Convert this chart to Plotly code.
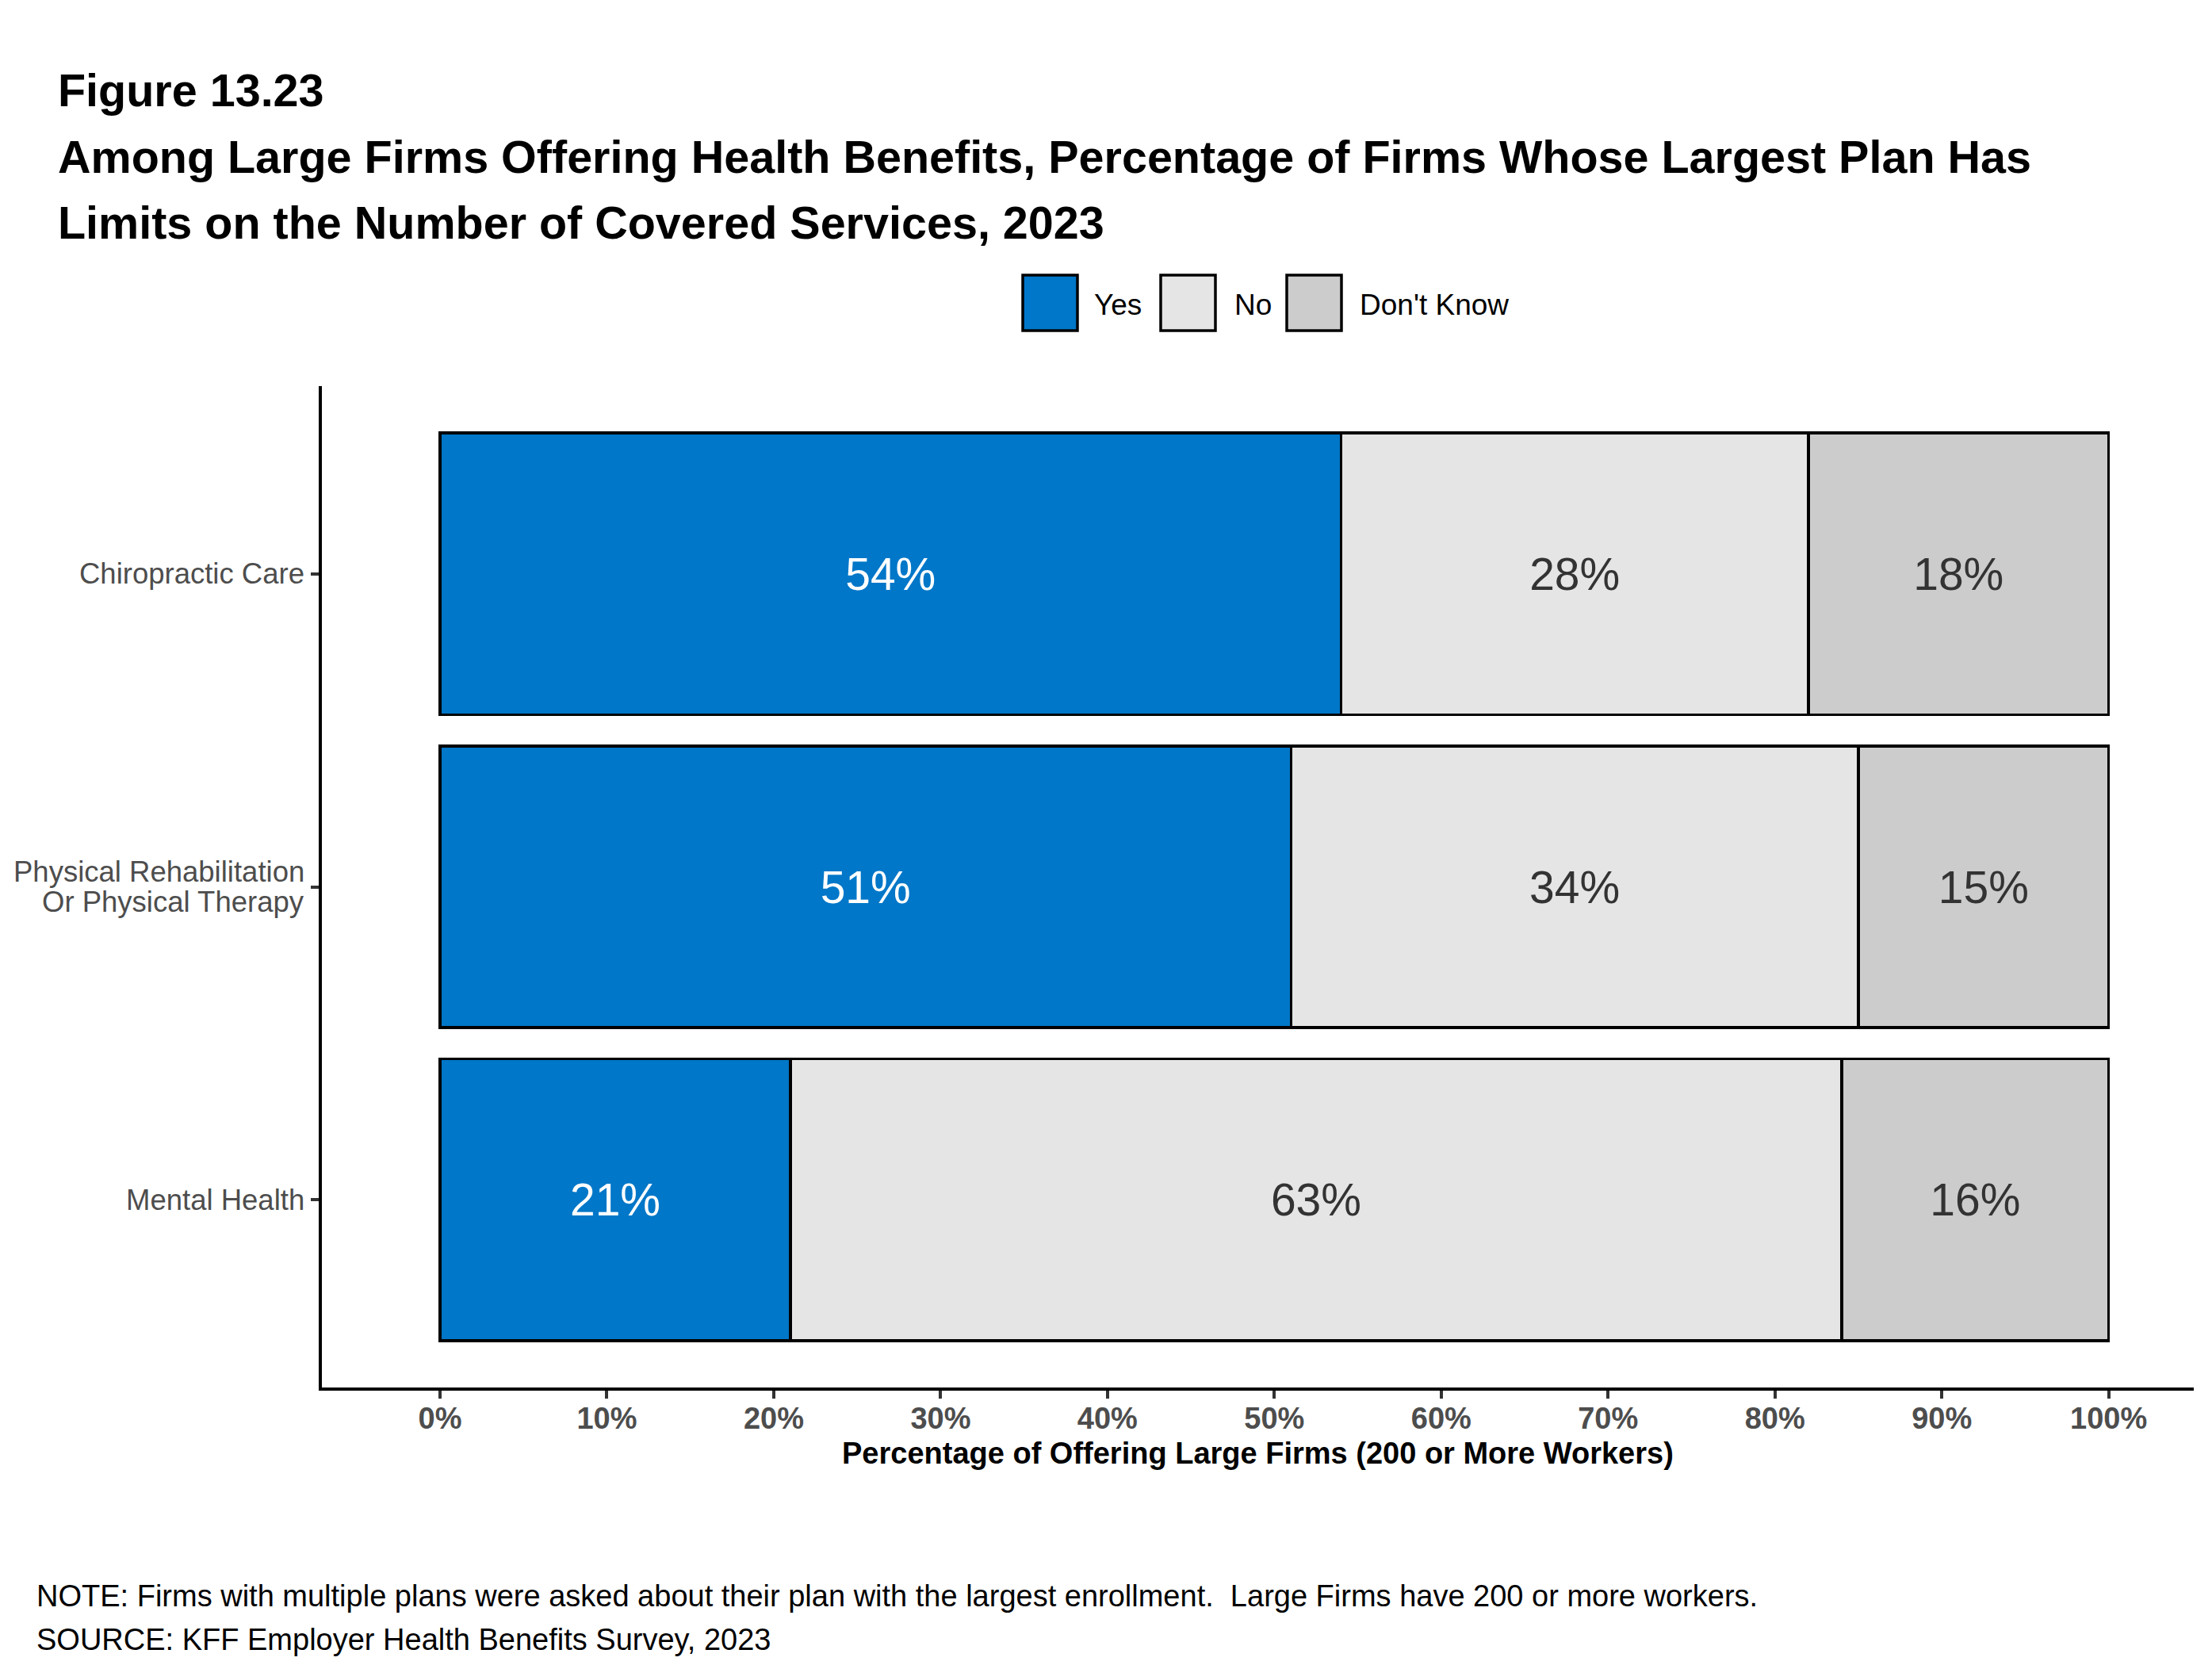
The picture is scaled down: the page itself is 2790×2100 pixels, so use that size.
import plotly.graph_objects as go

# ---------------- data ----------------
categories = ["Chiropractic Care", "Physical Rehabilitation<br>Or Physical Therapy", "Mental Health"]
series_names = ["Yes", "No", "Don't Know"]
yes_vals = [54, 51, 21]
no_vals = [28, 34, 63]
dk_vals = [18, 15, 16]
x_ticks = [0, 10, 20, 30, 40, 50, 60, 70, 80, 90, 100]
x_tick_labels = [f"{t}%" for t in x_ticks]

# ---------------- layout geometry (screen pixels) ----------------
OFF = 8                      # default page body margin
W, H = 2790 - OFF, 2100 - OFF
PL, PR, PT, PB = 406, 2767, 487, 1750   # plot area on screen
ML, MT = PL - OFF, PT - OFF
MR, MB = W - (PR - OFF), H - (PB - OFF)
FONT = "Liberation Sans, Arial, Helvetica, sans-serif"
colors = ["#0077C8", "#E5E5E5", "#CCCCCC"]
label_colors = ["#FFFFFF", "#333333", "#333333"]
YLAB_SIZE = 36.5
YLAB_LINE = 37.5   # px between lines of a wrapped category label


def px_x(px):
    return (px - PL) / (PR - PL)


def px_y(py):
    return (PB - py) / (PB - PT)


fig = go.Figure()
for name, vals, col, lcol in zip(series_names, [yes_vals, no_vals, dk_vals], colors, label_colors):
    fig.add_trace(go.Bar(
        y=categories, x=vals, name=name, orientation="h",
        marker=dict(color=col, line=dict(color="black", width=3.5)),
        width=0.9,
        text=[f"{v}%" for v in vals], textposition="inside", insidetextanchor="middle",
        textangle=0, textfont=dict(family=FONT, size=57, color=lcol),
        showlegend=False, hoverinfo="skip",
    ))

fig.update_layout(
    barmode="stack",
    width=W, height=H,
    margin=dict(l=ML, r=MR, t=MT, b=MB, autoexpand=False),
    paper_bgcolor="white", plot_bgcolor="white",
    font=dict(family=FONT, color="black"),
    showlegend=False,
)
fig.update_xaxes(
    range=[-7.08, 105.1], tickvals=x_ticks, ticktext=x_tick_labels,
    showgrid=False, zeroline=False,
    showline=True, linecolor="black", linewidth=4,
    ticks="outside", ticklen=10, tickwidth=4, tickcolor="#333333",
    tickfont=dict(family=FONT, size=38, color="#4D4D4D", weight="bold"),
    ticklabelstandoff=-8,
)
fig.update_yaxes(
    type="category", categoryorder="array", categoryarray=categories,
    range=[2.6, -0.6],
    showgrid=False, zeroline=False,
    showline=True, linecolor="black", linewidth=4,
    ticks="outside", ticklen=10, tickwidth=4, tickcolor="#333333",
    showticklabels=False,
)

# category labels (tight line spacing like the reference)
for cat in categories:
    lines = cat.split("<br>")
    n = len(lines)
    for i, ln in enumerate(lines):
        fig.add_annotation(text=ln, xref="paper", yref="y", x=px_x(386), y=cat,
                           xanchor="right", yanchor="middle", showarrow=False,
                           yshift=((n - 1) / 2 - i) * YLAB_LINE,
                           font=dict(family=FONT, size=YLAB_SIZE, color="#4D4D4D"))

# x-axis title
fig.add_annotation(text="<b>Percentage of Offering Large Firms (200 or More Workers)</b>",
                   xref="paper", yref="paper", x=0.5, y=px_y(1833),
                   xanchor="center", yanchor="middle", showarrow=False,
                   font=dict(family=FONT, size=38, color="black"))

# ---------------- titles ----------------
title_lines = [
    "Figure 13.23",
    "Among Large Firms Offering Health Benefits, Percentage of Firms Whose Largest Plan Has",
    "Limits on the Number of Covered Services, 2023",
]
title_centers = [114, 198, 281]
for txt, cy in zip(title_lines, title_centers):
    fig.add_annotation(text=f"<b>{txt}</b>", xref="paper", yref="paper",
                       x=px_x(71), y=px_y(cy), xanchor="left", yanchor="middle",
                       showarrow=False, font=dict(family=FONT, size=57.5, color="black"))

note_lines = [
    "NOTE: Firms with multiple plans were asked about their plan with the largest enrollment.&nbsp; Large Firms have 200 or more workers.",
    "SOURCE: KFF Employer Health Benefits Survey, 2023",
]
note_centers = [2013, 2068]
for txt, cy in zip(note_lines, note_centers):
    fig.add_annotation(text=txt, xref="paper", yref="paper",
                       x=px_x(44), y=px_y(cy), xanchor="left", yanchor="middle",
                       showarrow=False, font=dict(family=FONT, size=38, color="black"))

# ---------------- legend (drawn) ----------------
legend_box_left = [1290, 1464, 1623]
legend_text_left = [1378, 1555, 1713]
box_w, box_top, box_bot = 69, 347, 417
for name, col, bl, tl in zip(series_names, colors, legend_box_left, legend_text_left):
    fig.add_shape(type="rect", xref="paper", yref="paper",
                  x0=px_x(bl), x1=px_x(bl + box_w), y0=px_y(box_bot), y1=px_y(box_top),
                  fillcolor=col, line=dict(color="black", width=3.5))
    fig.add_annotation(text=name, xref="paper", yref="paper",
                       x=px_x(tl), y=px_y((box_top + box_bot) / 2 + 3), xanchor="left", yanchor="middle",
                       showarrow=False, font=dict(family=FONT, size=37, color="black"))

fig.write_html("out.html")
